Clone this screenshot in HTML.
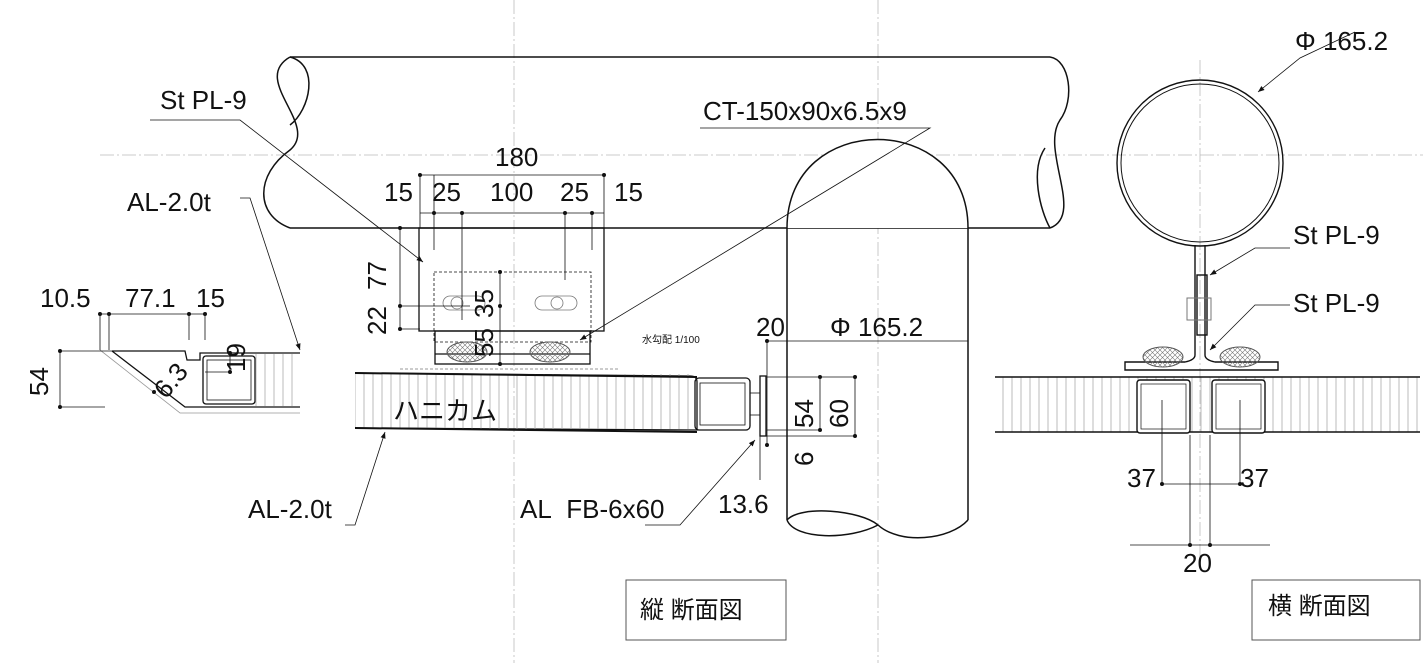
<!DOCTYPE html>
<html><head><meta charset="utf-8"><style>
html,body{margin:0;padding:0;background:#fff;}
svg{display:block;}
text{font-family:"Liberation Sans","Noto Sans CJK JP",sans-serif;fill:#111;}
</style></head><body>
<svg width="1423" height="663" viewBox="0 0 1423 663" xmlns="http://www.w3.org/2000/svg">
<defs>
<marker id="ar" viewBox="0 0 10 10" refX="10" refY="5" markerWidth="8" markerHeight="8" orient="auto-start-reverse"><path d="M0,1 L10,5 L0,9 z" fill="#111"/></marker>
<pattern id="hc" width="9" height="10" patternUnits="userSpaceOnUse"><line x1="4" y1="0" x2="4" y2="10" stroke="#aaa" stroke-width="0.8"/></pattern>
<pattern id="xh" width="5" height="5" patternUnits="userSpaceOnUse"><path d="M0,0 L5,5 M5,0 L0,5" stroke="#777" stroke-width="0.6"/></pattern>
</defs>
<g stroke="#bbb" stroke-width="0.8" stroke-dasharray="14,3,2,3" fill="none">
<line x1="100" y1="155" x2="1423" y2="155"/>
<line x1="514" y1="0" x2="514" y2="663"/>
<line x1="878" y1="0" x2="878" y2="663"/>
<line x1="1200" y1="60" x2="1200" y2="560"/>
</g>
<g fill="none" stroke="#111" stroke-width="1.5">
<!-- horizontal pipe -->
<path d="M290,57 L1050,57 M290,228 L1050,228"/>
<path d="M290,57 C250,80 320,125 290,150 C255,175 255,215 290,228"/>
<path d="M290,57 C320,65 310,110 290,125"/>
<path d="M1050,57 C1070,60 1075,100 1060,120 C1040,150 1085,215 1050,228"/>
<path d="M1050,228 C1040,210 1030,170 1045,148"/>
<!-- vertical pipe -->
<path d="M787,228 L787,520 M968,228 L968,520"/>
<path d="M787,228 C787,110 968,110 968,228" fill="#fff"/>
<path d="M787,520 C800,505 860,510 878,525 C900,545 950,540 968,520"/>
<path d="M787,520 C795,540 850,540 878,525"/>
</g>
<!-- middle bracket -->
<g fill="none" stroke="#111" stroke-width="1.3">
<rect x="419" y="228" width="185" height="103"/>
<rect x="434" y="272" width="157" height="70" stroke-dasharray="3,2" stroke-width="0.8"/>
<rect x="435" y="331" width="155" height="33"/>
<line x1="435" y1="354" x2="590" y2="354"/>
<path d="M355,373 L690,376 Q697,376 697,382 L697,430 L355,428" />
<rect x="355" y="374" width="340" height="55" fill="url(#hc)" stroke="none"/>
<line x1="355" y1="373" x2="697" y2="377" stroke-width="2"/>
<line x1="355" y1="428" x2="697" y2="432" stroke-width="2"/>
<rect x="695" y="378" width="55" height="52" rx="4"/>
<rect x="700" y="383" width="45" height="42" stroke-width="0.8"/>
<rect x="760" y="376" width="6" height="60"/>
<line x1="750" y1="393" x2="760" y2="393" stroke-width="0.8"/>
<line x1="750" y1="415" x2="760" y2="415" stroke-width="0.8"/>
</g>
<ellipse cx="467" cy="352" rx="20" ry="10" fill="url(#xh)" stroke="#555"/>
<ellipse cx="550" cy="352" rx="20" ry="10" fill="url(#xh)" stroke="#555"/>
<g fill="none" stroke="#777" stroke-width="0.8">
<rect x="443" y="296" width="42" height="14" rx="7"/><rect x="535" y="296" width="42" height="14" rx="7"/>
<ellipse cx="457" cy="303" rx="6" ry="6"/><ellipse cx="557" cy="303" rx="6" ry="6"/>
<line x1="400" y1="369" x2="620" y2="369" stroke-dasharray="3,2"/>
</g>
<!-- left detail -->
<g fill="none" stroke="#111" stroke-width="1.3">
<path d="M112,351 L185,351 L187,360 L200,360 L200,353 L300,353"/>
<path d="M112,351 L185,407 L300,407"/>
<rect x="203" y="356" width="52" height="48" rx="3"/>
<rect x="207" y="360" width="44" height="40" stroke-width="0.8"/>
<rect x="255" y="354" width="45" height="52" fill="url(#hc)" stroke="none"/>
<path d="M100,350 L180,413 L300,413" stroke="#999" stroke-width="0.8"/>
</g>
<!-- right detail -->
<g fill="none" stroke="#111" stroke-width="1.4">
<circle cx="1200" cy="163" r="83"/>
<circle cx="1200" cy="163" r="79" stroke-width="1"/>
<path d="M1195,245 L1195,355 Q1195,360 1185,362 L1125,362 L1125,370 L1278,370 L1278,362 L1215,362 Q1205,360 1205,355 L1205,245"/>
<rect x="1197" y="275" width="10" height="60"/>
<rect x="995" y="377" width="425" height="55" fill="url(#hc)" stroke="none"/>
<line x1="995" y1="377" x2="1420" y2="377"/>
<line x1="995" y1="432" x2="1420" y2="432"/>
<rect x="1137" y="380" width="53" height="53" rx="3" fill="#fff"/>
<rect x="1212" y="380" width="53" height="53" rx="3" fill="#fff"/>
<rect x="1141" y="384" width="45" height="45" stroke-width="0.7"/>
<rect x="1216" y="384" width="45" height="45" stroke-width="0.7"/>
</g>
<ellipse cx="1163" cy="357" rx="20" ry="10" fill="url(#xh)" stroke="#555"/>
<ellipse cx="1240" cy="357" rx="20" ry="10" fill="url(#xh)" stroke="#555"/>
<rect x="1187" y="298" width="24" height="22" fill="none" stroke="#777"/>
<!-- dimension lines -->
<g stroke="#111" stroke-width="0.8" fill="none">
<line x1="420" y1="175" x2="604" y2="175"/>
<line x1="420" y1="213" x2="604" y2="213"/>
<path d="M420,175 V228 M434,175 V250 M462,213 V320 M565,213 V280 M592,213 V250 M604,175 V250"/>
<line x1="400" y1="228" x2="400" y2="330"/>
<line x1="400" y1="228" x2="420" y2="228"/><line x1="400" y1="306" x2="470" y2="306"/><line x1="400" y1="329" x2="420" y2="329"/>
<line x1="500" y1="272" x2="500" y2="364"/>
<line x1="100" y1="314" x2="205" y2="314"/>
<path d="M100,314 V350 M109,314 V350 M189,314 V340 M205,314 V340"/>
<line x1="60" y1="351" x2="60" y2="407"/>
<line x1="60" y1="351" x2="112" y2="351"/><line x1="60" y1="407" x2="105" y2="407"/>
<line x1="230" y1="353" x2="230" y2="372"/><line x1="205" y1="372" x2="230" y2="372"/>
<line x1="767" y1="341" x2="968" y2="341"/>
<path d="M767,341 V445 M760,436 V480"/>
<line x1="767" y1="377" x2="855" y2="377"/>
<line x1="760" y1="436" x2="855" y2="436"/>
<line x1="767" y1="430" x2="820" y2="430"/>
<path d="M820,377 V430 M855,377 V436"/>
<line x1="1162" y1="484" x2="1240" y2="484"/>
<path d="M1162,400 V484 M1240,400 V484 M1190,435 V545 M1210,435 V545"/>
<line x1="1130" y1="545" x2="1270" y2="545"/>
</g>
<g fill="#111">
<circle cx="420" cy="175" r="2"/><circle cx="604" cy="175" r="2"/><circle cx="434" cy="213" r="2"/><circle cx="462" cy="213" r="2"/><circle cx="565" cy="213" r="2"/><circle cx="592" cy="213" r="2"/>
<circle cx="400" cy="228" r="2"/><circle cx="400" cy="306" r="2"/><circle cx="400" cy="329" r="2"/><circle cx="500" cy="272" r="2"/><circle cx="500" cy="306" r="2"/><circle cx="500" cy="364" r="2"/>
<circle cx="100" cy="314" r="2"/><circle cx="109" cy="314" r="2"/><circle cx="189" cy="314" r="2"/><circle cx="205" cy="314" r="2"/>
<circle cx="60" cy="351" r="2"/><circle cx="60" cy="407" r="2"/><circle cx="230" cy="353" r="2"/><circle cx="230" cy="372" r="2"/><circle cx="154" cy="392" r="2"/>
<circle cx="767" cy="341" r="2"/><circle cx="820" cy="377" r="2"/><circle cx="855" cy="377" r="2"/><circle cx="820" cy="430" r="2"/><circle cx="855" cy="436" r="2"/><circle cx="767" cy="445" r="2"/>
<circle cx="1162" cy="484" r="2"/><circle cx="1240" cy="484" r="2"/><circle cx="1190" cy="545" r="2"/><circle cx="1210" cy="545" r="2"/>
</g>
<!-- leaders -->
<g stroke="#111" stroke-width="0.8" fill="none" marker-end="url(#ar)">
<path d="M150,120 L240,120 L423,262"/>
<path d="M700,128 L930,128 L580,340"/>
<path d="M240,198 L250,198 L300,350"/>
<path d="M345,525 L355,525 L385,432"/>
<path d="M645,525 L680,525 L755,440"/>
<path d="M1355,32 L1300,58 L1258,92"/>
<path d="M1290,248 L1255,248 L1210,275"/>
<path d="M1290,305 L1255,305 L1210,350"/>
</g>
<!-- text -->
<g font-size="26">
<text x="160" y="109">St PL-9</text>
<text x="703" y="120">CT-150x90x6.5x9</text>
<text x="495" y="166">180</text>
<text x="384" y="201">15</text><text x="432" y="201">25</text><text x="490" y="201">100</text><text x="560" y="201">25</text><text x="614" y="201">15</text>
<text x="127" y="211">AL-2.0t</text>
<text x="40" y="307">10.5</text><text x="125" y="307">77.1</text><text x="196" y="307">15</text>
<text x="756" y="336">20</text><text x="830" y="336">Φ 165.2</text>
<text x="393" y="420">ハニカム</text>
<text x="248" y="518">AL-2.0t</text>
<text x="520" y="518">AL&#160; FB-6x60</text>
<text x="718" y="513">13.6</text>
<text x="1295" y="50">Φ 165.2</text>
<text x="1293" y="244">St PL-9</text>
<text x="1293" y="312">St PL-9</text>
<text x="1127" y="487">37</text><text x="1240" y="487">37</text>
<text x="1183" y="572">20</text>
<text transform="translate(386,290) rotate(-90)">77</text>
<text transform="translate(386,335) rotate(-90)">22</text>
<text transform="translate(493,318) rotate(-90)">35</text>
<text transform="translate(493,357) rotate(-90)">55</text>
<text transform="translate(48,396) rotate(-90)">54</text>
<text transform="translate(245,372) rotate(-90)">19</text>
<text transform="translate(166,400) rotate(-50)">6.3</text>
<text transform="translate(813,428) rotate(-90)">54</text>
<text transform="translate(848,428) rotate(-90)">60</text>
<text transform="translate(813,466) rotate(-90)">6</text>
</g>
<text x="642" y="343" font-size="10">水勾配 1/100</text>
<rect x="626" y="580" width="160" height="60" fill="none" stroke="#555"/>
<text x="640" y="618" font-size="24">縦 断面図</text>
<rect x="1252" y="580" width="168" height="60" fill="none" stroke="#555"/>
<text x="1268" y="614" font-size="24">横 断面図</text>
</svg>
</body></html>
